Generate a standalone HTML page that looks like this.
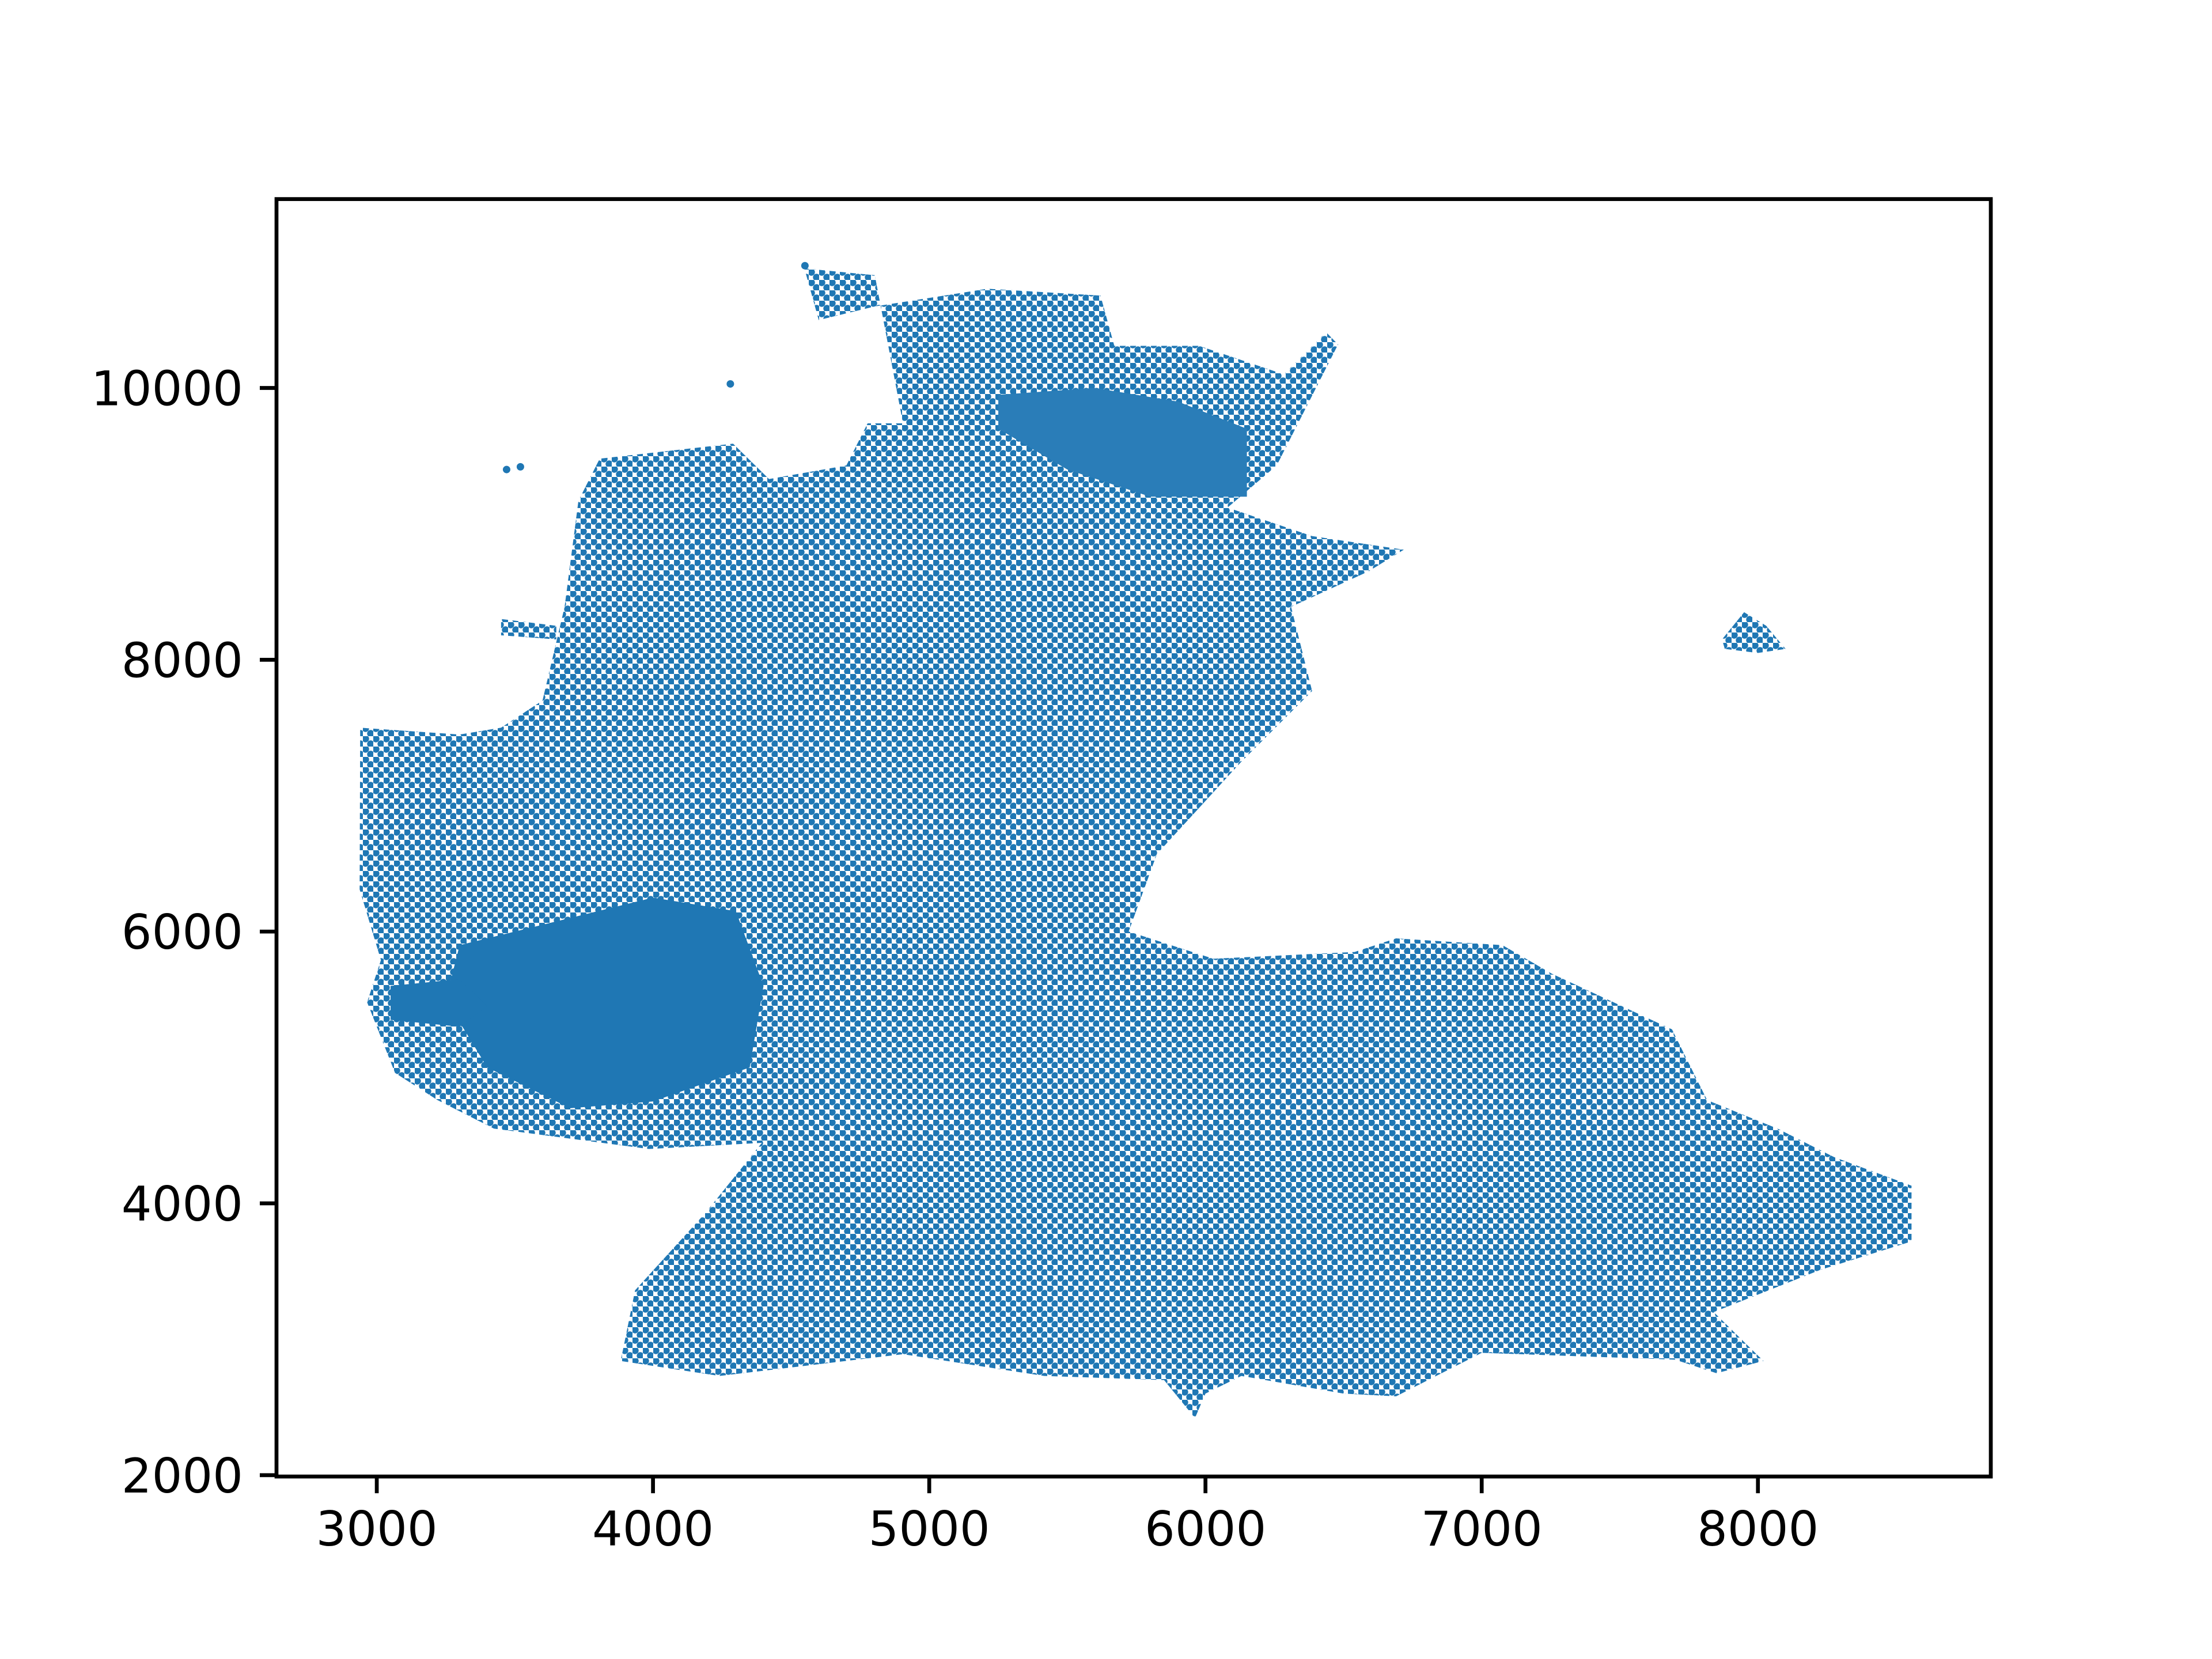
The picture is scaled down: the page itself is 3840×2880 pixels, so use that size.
<!DOCTYPE html>
<html><head><meta charset="utf-8">
<style>html,body{margin:0;padding:0;background:#fff;}svg{display:block;}</style>
</head><body>
<svg id="chart" width="3840" height="2880" viewBox="0 0 3840 2880" xmlns="http://www.w3.org/2000/svg">
<defs>
<pattern id="dots" width="18" height="18" patternUnits="userSpaceOnUse">
<rect width="18" height="18" fill="#ffffff"/>
<circle cx="4.5" cy="4.5" r="6.2" fill="#1f77b4"/>
<circle cx="13.5" cy="13.5" r="6.2" fill="#1f77b4"/>
</pattern>
</defs>
<rect width="3840" height="2880" fill="#fff"/>
<g id="plot"></g>
<g id="axes"></g>
</svg>
<script>
// ---- data ----
const xTicks = [3000, 4000, 5000, 6000, 7000, 8000];
const yTicks = [2000, 4000, 6000, 8000, 10000];
// main point-cloud outline
const mainX = [2940,3300,3450,3600,3680,3730,3807,4290,4420,4700,4777,4905,4803,4700,4548,4600,4803,5211,5620,5670,5977,6284,6437,6480,6258,6080,6386,6718,6590,6310,6386,6130,5824,5722,6029,6540,6690,7075,7254,7689,7816,8071,8276,8556,8556,8225,7840,8020,7850,7700,7000,6690,6500,6130,6000,5962,5850,5416,4905,4241,3883,3935,4190,4394,3985,3424,3220,3066,2965,3015,2938];
const mainY = [7500,7450,7500,7700,8390,9170,9480,9590,9330,9430,9740,9740,10830,10850,10880,10500,10600,10730,10680,10310,10310,10100,10410,10320,9430,9120,8910,8810,8650,8390,7770,7250,6570,6000,5800,5850,5950,5900,5690,5280,4760,4550,4340,4130,3720,3510,3200,2840,2750,2850,2900,2580,2600,2730,2600,2420,2700,2730,2890,2730,2840,3360,3930,4445,4400,4550,4760,4960,5480,5790,6310];
// dense cores
const dense1X = [3300,3700,4000,4300,4400,4350,4000,3700,3400,3250];
const dense1Y = [5900,6100,6250,6150,5600,5000,4750,4700,5000,5500];
const dense2X = [5250,5600,5900,6150,6150,5800,5500,5250];
const dense2Y = [9950,10000,9900,9700,9200,9200,9400,9700];
const dense3X = [3050,3300,3400,3300,3050];
const dense3Y = [5600,5650,5450,5300,5350];
// small island cluster
const islandX = [7870,7950,8030,8100,8000,7880];
const islandY = [8150,8350,8250,8080,8050,8080];
const blobX = [3450,3650,3650,3450];
const blobY = [8300,8250,8150,8180];
// isolated points
const outX = [4280,3470,3520,4550];
const outY = [10030,9400,9420,10900];

// ---- axes ----
const L=480,R=3456,T=345.6,B=2563.2;
const xmin=2637,xmax=8843,ymin=1990,ymax=11390;
const sx=v=>L+(v-xmin)/(xmax-xmin)*(R-L);
const sy=v=>B-(v-ymin)/(ymax-ymin)*(B-T);
const NS='http://www.w3.org/2000/svg';
const plot=document.getElementById('plot'), axes=document.getElementById('axes');
function poly(xs,ys,fill,name){
  const p=document.createElementNS(NS,'polygon');
  p.setAttribute('points',xs.map((x,i)=>sx(x)+','+sy(ys[i])).join(' '));
  p.setAttribute('fill',fill);
  
  
  plot.appendChild(p);
}
poly(mainX,mainY,'url(#dots)','point-cloud-main');
poly(dense1X,dense1Y,'#1f77b4','dense-core-west');
poly(dense2X,dense2Y,'#2a7db8','dense-core-north');
poly(dense3X,dense3Y,'#1f77b4','dense-core-far-west');
poly(islandX,islandY,'url(#dots)','point-island-east');
poly(blobX,blobY,'url(#dots)','point-blob-northwest');
outX.forEach((x,i)=>{
  const c=document.createElementNS(NS,'circle');
  c.setAttribute('cx',sx(x));c.setAttribute('cy',sy(outY[i]));c.setAttribute('r',6.5);
  c.setAttribute('fill','#1f77b4');
  
  
  plot.appendChild(c);
});
const frame=document.createElementNS(NS,'rect');
frame.setAttribute('x',L);frame.setAttribute('y',T);frame.setAttribute('width',R-L);frame.setAttribute('height',B-T);
frame.setAttribute('fill','none');frame.setAttribute('stroke','#000');frame.setAttribute('stroke-width',6.7);


axes.appendChild(frame);
function line(x1,y1,x2,y2,name){
  const l=document.createElementNS(NS,'line');
  l.setAttribute('x1',x1);l.setAttribute('y1',y1);l.setAttribute('x2',x2);l.setAttribute('y2',y2);
  l.setAttribute('stroke','#000');l.setAttribute('stroke-width',6.7);
  
  
  axes.appendChild(l);
}
function text(x,y,s,anchor,name){
  const t=document.createElementNS(NS,'text');
  t.setAttribute('x',x);t.setAttribute('y',y);t.setAttribute('text-anchor',anchor);
  t.setAttribute('font-family','"DejaVu Sans","Liberation Sans",sans-serif');
  t.setAttribute('font-size',83);t.setAttribute('fill','#000');
  t.textContent=s;
  
  
  axes.appendChild(t);
}
xTicks.forEach(v=>{const x=sx(v);line(x,B,x,B+29,'x-tick');text(x,B+29+29+62,String(v),'middle','x-tick-label');});
yTicks.forEach(v=>{const y=sy(v);line(L-29,y,L,y,'y-tick');text(L-29-29,y+30,String(v),'end','y-tick-label');});
</script>
</body></html>
